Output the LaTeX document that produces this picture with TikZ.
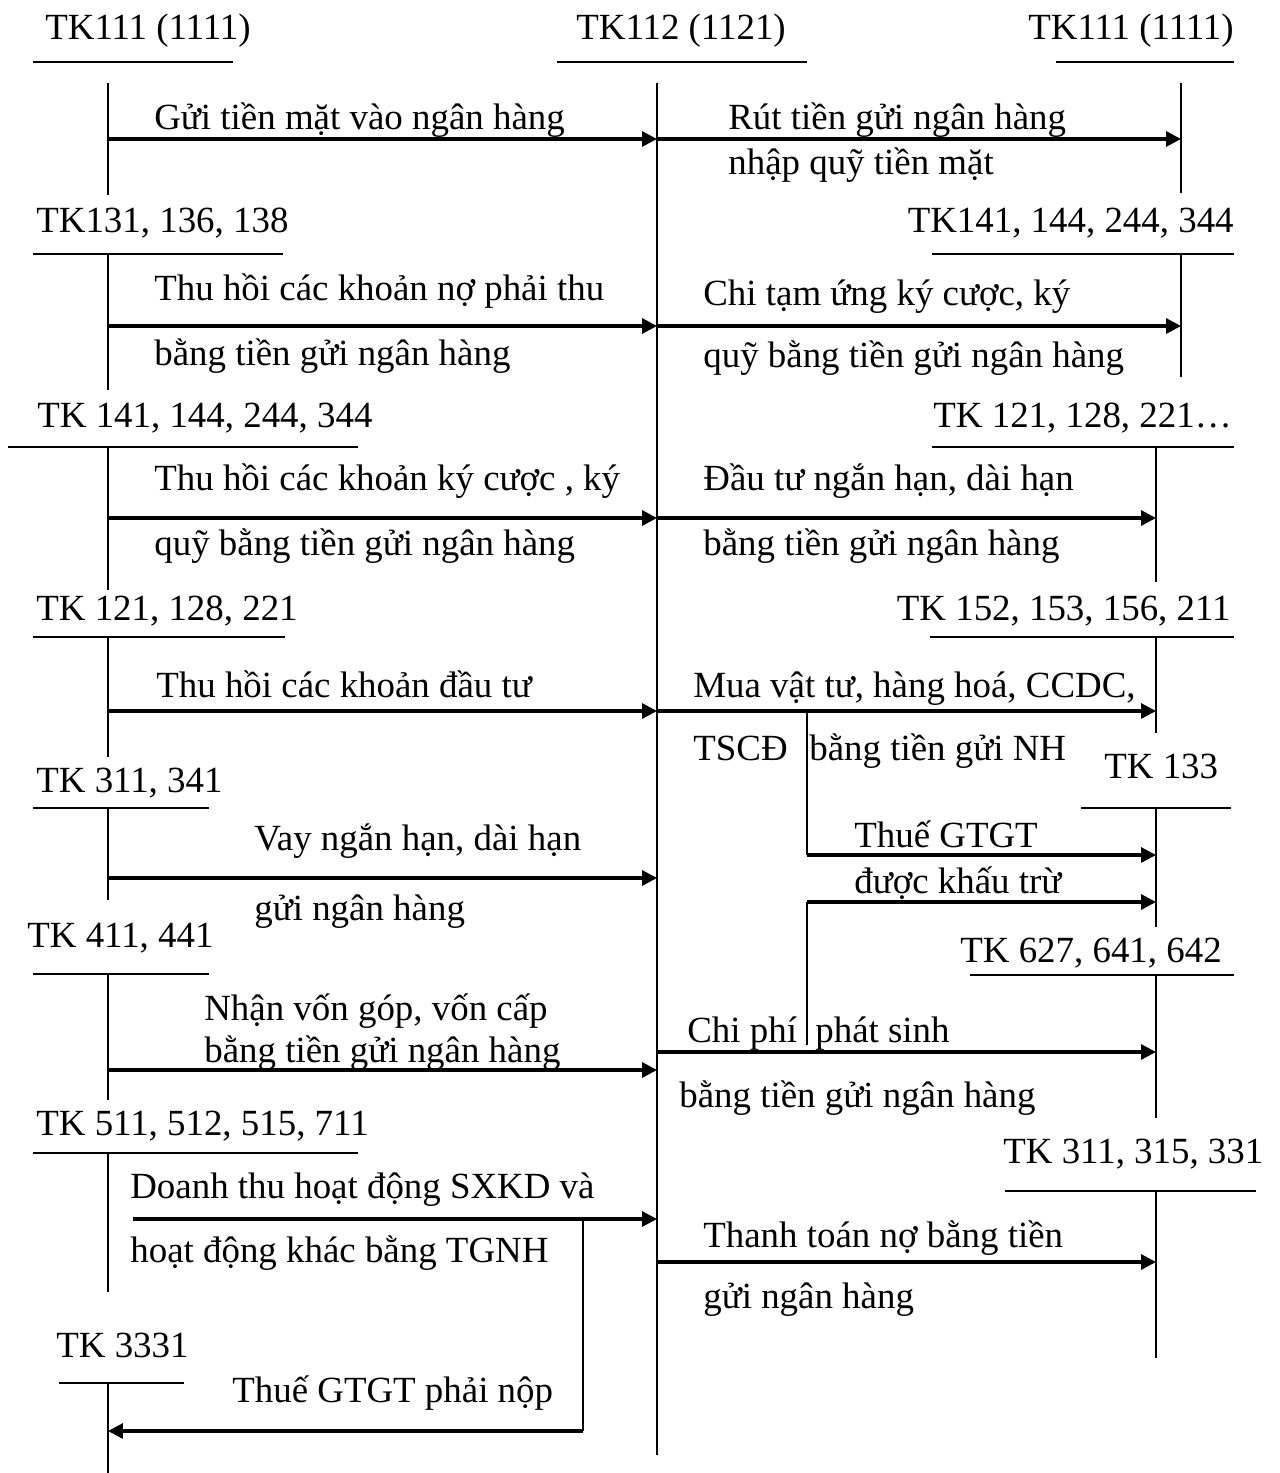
\documentclass[tikz,border=0pt]{standalone}
\usepackage{fontspec}
\setmainfont{Liberation Serif}
\usetikzlibrary{arrows.meta}
\tikzset{
  tline/.style={draw=black,line width=1pt},
  posting/.style={draw=black,line width=1.8pt,-{Triangle[length=0.3cm,width=0.3cm]}},
  lbl/.style={anchor=base west,inner sep=0pt},
  accr/.style={anchor=base east,inner sep=0pt},
}
\begin{document}
\begin{tikzpicture}[x=0.02cm,y=-0.02cm,font=\fontsize{21pt}{25pt}\selectfont]
  \useasboundingbox (0,0) rectangle (1279,1473);

  % T-accounts: name / stem x / bar y / bar left / bar right / stem start / stem end
  \foreach \k/\x/\y/\l/\r/\s/\e in {
      L1/108/62/33/233/83/195,      C/657/62/557/807/83/1455,
      R1/1181/62/1056/1234/83/193,
      L2/108/254/33/283/254/390,    R2/1181/254/932/1234/254/377,
      L3/108/447/8/358/447/590,     R3/1156/447/932/1234/447/582,
      L4/108/637/33/285/637/757,    R4/1156/637/930/1234/637/733,
      L5/108/808/33/209/808/900,    R5/1156/808/1081/1231/808/927,
      L6/108/974/33/209/974/1100,   R6/1156/975/970/1234/975/1118,
      L7/108/1153/33/358/1153/1292, R7/1156/1191/1005/1256/1191/1358,
      L8/108/1383/59/184/1383/1473}
  {
    \coordinate (\k-l) at (\l,\y);
    \coordinate (\k-r) at (\r,\y);
    \coordinate (\k-t) at (\x,\s);
    \coordinate (\k-b) at (\x,\e);
    \draw[tline] (\k-l) -- (\k-r);
    \draw[tline] (\k-t) -- (\k-b);
  }

  \node[lbl] (nL1) at (45,40) {TK111 (1111)};
  \node[lbl] (nC) at (576,40) {TK112 (1121)};
  \node[accr] (nR1) at (1234,40) {TK111 (1111)};
  \node[lbl] (nL2) at (36,233) {TK131, 136, 138};
  \node[accr] (nR2) at (1234,233) {TK141, 144, 244, 344};
  \node[lbl] (nL3) at (37,427) {TK 141, 144, 244, 344};
  \node[accr] (nR3) at (1232,427) {TK 121, 128, 221…};
  \node[lbl] (nL4) at (36,620) {TK 121, 128, 221};
  \node[accr] (nR4) at (1231,620) {TK 152, 153, 156, 211};
  \node[lbl] (nL5) at (36,792) {TK 311, 341};
  \node[lbl] (nR5) at (1104,778) {TK 133};
  \node[lbl] (nL6) at (27,947) {TK 411, 441};
  \node[lbl] (nR6) at (960,962) {TK 627, 641, 642};
  \node[lbl] (nL7) at (36,1135) {TK 511, 512, 515, 711};
  \node[lbl] (nR7) at (1003,1163) {TK 311, 315, 331};
  \node[lbl] (nL8) at (56,1357) {TK 3331};

  % Postings: name / from x / to x / y
  \foreach \k/\xa/\xb/\y in {
      p1/108/657/139,  p2/657/1181/139,  p3/108/657/326,  p4/657/1181/326,
      p5/108/657/518,  p6/657/1156/518,  p7/108/657/711,  p8/657/1156/711,
      p9/108/657/878,  p10/807/1156/855, p11/807/1156/902, p12/108/657/1070,
      p13/657/1156/1052, p14/133/657/1219, p15/657/1156/1262, p16/583/108/1431}
  {
    \coordinate (\k-s) at (\xa,\y);
    \coordinate (\k-e) at (\xb,\y);
    \draw[posting] (\k-s) -- (\k-e);
  }

  % VAT branches
  \coordinate (vat1) at (807,711);
  \coordinate (vat2) at (807,1045);
  \coordinate (vat3) at (583,1219);
  \draw[tline] (vat1) -- (p10-s);
  \draw[tline] (vat2) -- (p11-s);
  \draw[tline] (vat3) -- (p16-s);

  % Left side texts
  \node[lbl] (t1) at (154,130) {Gửi tiền mặt vào ngân hàng};
  \node[lbl] (t3a) at (154,300) {Thu hồi các khoản nợ phải thu};
  \node[lbl] (t3b) at (154,365) {bằng tiền gửi ngân hàng};
  \node[lbl] (t5a) at (154,490) {Thu hồi các khoản ký cược , ký};
  \node[lbl] (t5b) at (154,555) {quỹ bằng tiền gửi ngân hàng};
  \node[lbl] (t7) at (156,697) {Thu hồi các khoản đầu tư};
  \node[lbl] (t9a) at (254,850) {Vay ngắn hạn, dài hạn};
  \node[lbl] (t9b) at (254,920) {gửi ngân hàng};
  \node[lbl] (t12a) at (204,1020) {Nhận vốn góp, vốn cấp};
  \node[lbl] (t12b) at (204,1062) {bằng tiền gửi ngân hàng};
  \node[lbl] (t14a) at (130,1198) {Doanh thu hoạt động SXKD và};
  \node[lbl] (t14b) at (130,1262) {hoạt động khác bằng TGNH};
  \node[lbl] (t16) at (232,1402) {Thuế GTGT phải nộp};

  % Right side texts
  \node[lbl] (t2a) at (728,130) {Rút tiền gửi ngân hàng};
  \node[lbl] (t2b) at (728,175) {nhập quỹ tiền mặt};
  \node[lbl] (t4a) at (703,305) {Chi tạm ứng ký cược, ký};
  \node[lbl] (t4b) at (703,367) {quỹ bằng tiền gửi ngân hàng};
  \node[lbl] (t6a) at (703,490) {Đầu tư ngắn hạn, dài hạn};
  \node[lbl] (t6b) at (703,555) {bằng tiền gửi ngân hàng};
  \node[lbl] (t8a) at (693,697) {Mua vật tư, hàng hoá, CCDC,};
  \node[lbl] (t8b) at (693,760) {TSCĐ};
  \node[lbl] (t8c) at (809,760) {bằng tiền gửi NH};
  \node[lbl] (t10) at (854,847) {Thuế GTGT};
  \node[lbl] (t11) at (854,893) {được khấu trừ};
  \node[lbl] (t13a) at (687,1042) {Chi phí};
  \node[lbl] (t13b) at (815,1042) {phát sinh};
  \node[lbl] (t13c) at (679,1107) {bằng tiền gửi ngân hàng};
  \node[lbl] (t15a) at (703,1247) {Thanh toán nợ bằng tiền};
  \node[lbl] (t15b) at (703,1308) {gửi ngân hàng};
\end{tikzpicture}
\end{document}
